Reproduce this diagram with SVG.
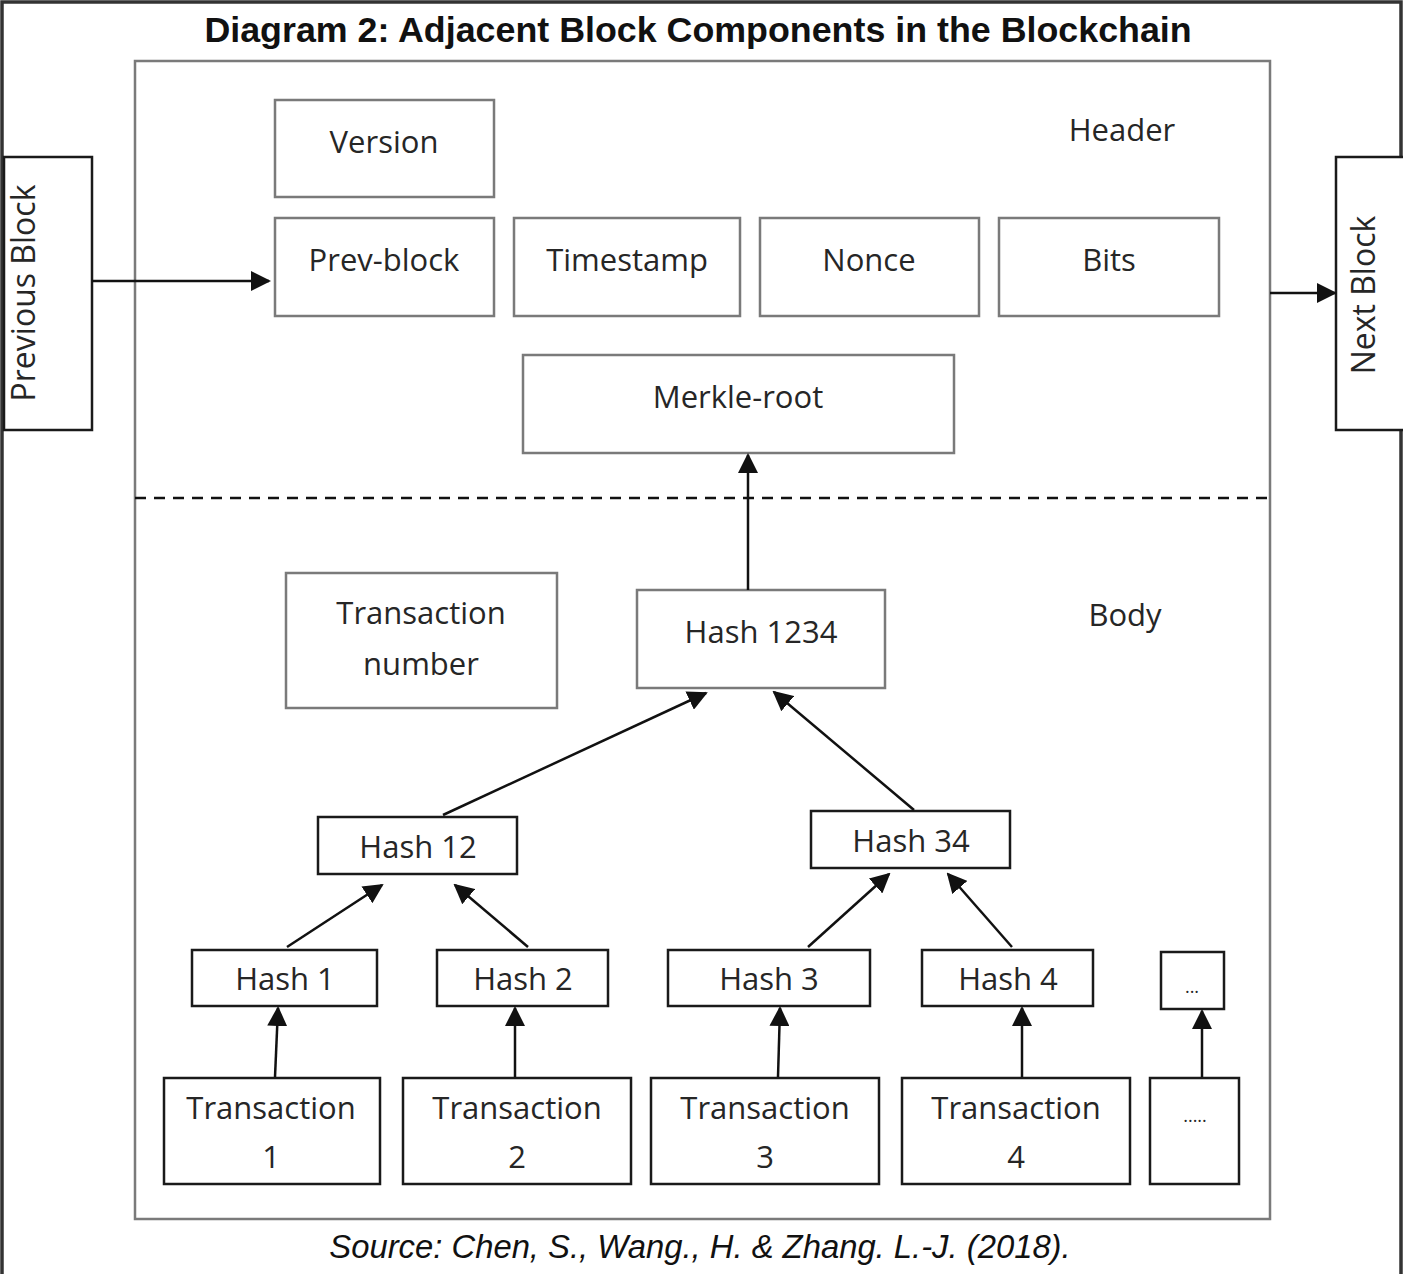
<svg xmlns="http://www.w3.org/2000/svg" width="1403" height="1274" viewBox="0 0 1403 1274">
<defs>
<marker id="ah2" viewBox="0 0 10 10" refX="9" refY="5" markerWidth="8" markerHeight="8" orient="auto">
<path d="M0,0 L10,5 L0,10 z" fill="#111"/>
</marker>
<style>
.g{fill:#fff;stroke:#7a7a7a;stroke-width:2.5}
.b{fill:#fff;stroke:#1a1a1a;stroke-width:2.5}
.t{font-family:"Open Sans","Noto Sans",sans-serif;font-size:31px;fill:#262626;text-anchor:middle}
.c{stroke:#111;stroke-width:2.5;fill:none;marker-end:url(#ah2)}
</style>
</defs>
<rect x="0" y="0" width="1403" height="1274" fill="#fff"/>
<rect x="2" y="2" width="1399" height="1290" fill="none" stroke="#333" stroke-width="3.5"/>
<text x="698" y="42" font-family="Liberation Sans,Arial,sans-serif" font-weight="bold" font-size="35.8" text-anchor="middle" fill="#111">Diagram 2: Adjacent Block Components in the Blockchain</text>
<g id="block"><rect x="135" y="61" width="1135" height="1158" class="g"/></g>
<line x1="135" y1="498" x2="1270" y2="498" stroke="#111" stroke-width="2.5" stroke-dasharray="11,8"/>
<g id="header-label"><text x="1122" y="141" class="t">Header</text></g>
<g id="body-label"><text x="1125" y="626" class="t">Body</text></g>
<g id="version"><rect x="275" y="100" width="219" height="97" class="g"/><text x="384" y="153" class="t">Version</text></g>
<g id="prev-block"><rect x="275" y="218" width="219" height="98" class="g"/><text x="384" y="271" class="t">Prev-block</text></g>
<g id="timestamp"><rect x="514" y="218" width="226" height="98" class="g"/><text x="627" y="271" class="t">Timestamp</text></g>
<g id="nonce"><rect x="760" y="218" width="219" height="98" class="g"/><text x="869" y="271" class="t">Nonce</text></g>
<g id="bits"><rect x="999" y="218" width="220" height="98" class="g"/><text x="1109" y="271" class="t">Bits</text></g>
<g id="merkle-root"><rect x="523" y="355" width="431" height="98" class="g"/><text x="738" y="408" class="t">Merkle-root</text></g>
<g id="previous-block"><rect x="4" y="157" width="88" height="273" class="b"/><text transform="translate(35,293) rotate(-90)" class="t" style="font-size:32px">Previous Block</text></g>
<g id="next-block"><rect x="1336" y="157" width="80" height="273" class="b"/><text transform="translate(1375,295) rotate(-90)" class="t" style="font-size:32px">Next Block</text></g>
<g id="transaction-number"><rect x="286" y="573" width="271" height="135" class="g"/><text x="421" y="624" class="t">Transaction</text><text x="421" y="675" class="t">number</text></g>
<g id="hash1234"><rect x="637" y="590" width="248" height="98" class="g"/><text x="761" y="643" class="t">Hash 1234</text></g>
<g id="hash12"><rect x="318" y="817" width="199" height="57" class="b"/><text x="418" y="858" class="t">Hash 12</text></g>
<g id="hash34"><rect x="811" y="811" width="199" height="57" class="b"/><text x="911" y="852" class="t">Hash 34</text></g>
<g id="hash1"><rect x="192" y="950" width="185" height="56" class="b"/><text x="285" y="990" class="t">Hash 1</text></g>
<g id="hash2"><rect x="437" y="950" width="171" height="56" class="b"/><text x="523" y="990" class="t">Hash 2</text></g>
<g id="hash3"><rect x="668" y="950" width="202" height="56" class="b"/><text x="769" y="990" class="t">Hash 3</text></g>
<g id="hash4"><rect x="922" y="950" width="171" height="56" class="b"/><text x="1008" y="990" class="t">Hash 4</text></g>
<g id="hash-more"><rect x="1161" y="952" width="63" height="57" class="b"/><text x="1192" y="993" class="t" style="font-size:18px">...</text></g>
<g id="tx1"><rect x="164" y="1078" width="216" height="106" class="b"/><text x="271" y="1119" class="t">Transaction</text><text x="271" y="1168" class="t">1</text></g>
<g id="tx2"><rect x="403" y="1078" width="228" height="106" class="b"/><text x="517" y="1119" class="t">Transaction</text><text x="517" y="1168" class="t">2</text></g>
<g id="tx3"><rect x="651" y="1078" width="228" height="106" class="b"/><text x="765" y="1119" class="t">Transaction</text><text x="765" y="1168" class="t">3</text></g>
<g id="tx4"><rect x="902" y="1078" width="228" height="106" class="b"/><text x="1016" y="1119" class="t">Transaction</text><text x="1016" y="1168" class="t">4</text></g>
<g id="tx-more"><rect x="1150" y="1078" width="89" height="106" class="b"/><text x="1195" y="1122" class="t" style="font-size:18px">.....</text></g>
<g id="connectors">
<path class="c" d="M92,281 H269"/>
<path class="c" d="M1270,293 H1335"/>
<path class="c" d="M748,590 V455"/>
<path class="c" d="M443,815 L706,693"/>
<path class="c" d="M914,810 L774,692"/>
<path class="c" d="M287,947 L382,885"/>
<path class="c" d="M528,947 L455,885"/>
<path class="c" d="M808,947 L889,874"/>
<path class="c" d="M1012,947 L948,874"/>
<path class="c" d="M275,1077 L278,1008"/>
<path class="c" d="M515,1077 V1008"/>
<path class="c" d="M778,1077 L780,1008"/>
<path class="c" d="M1022,1077 V1008"/>
<path class="c" d="M1202,1077 V1011"/>
</g>
<text x="700" y="1258" font-family="Liberation Sans,Arial,sans-serif" font-style="italic" font-size="32.8" text-anchor="middle" fill="#111">Source: Chen, S., Wang., H. &amp; Zhang. L.-J. (2018).</text>
</svg>
